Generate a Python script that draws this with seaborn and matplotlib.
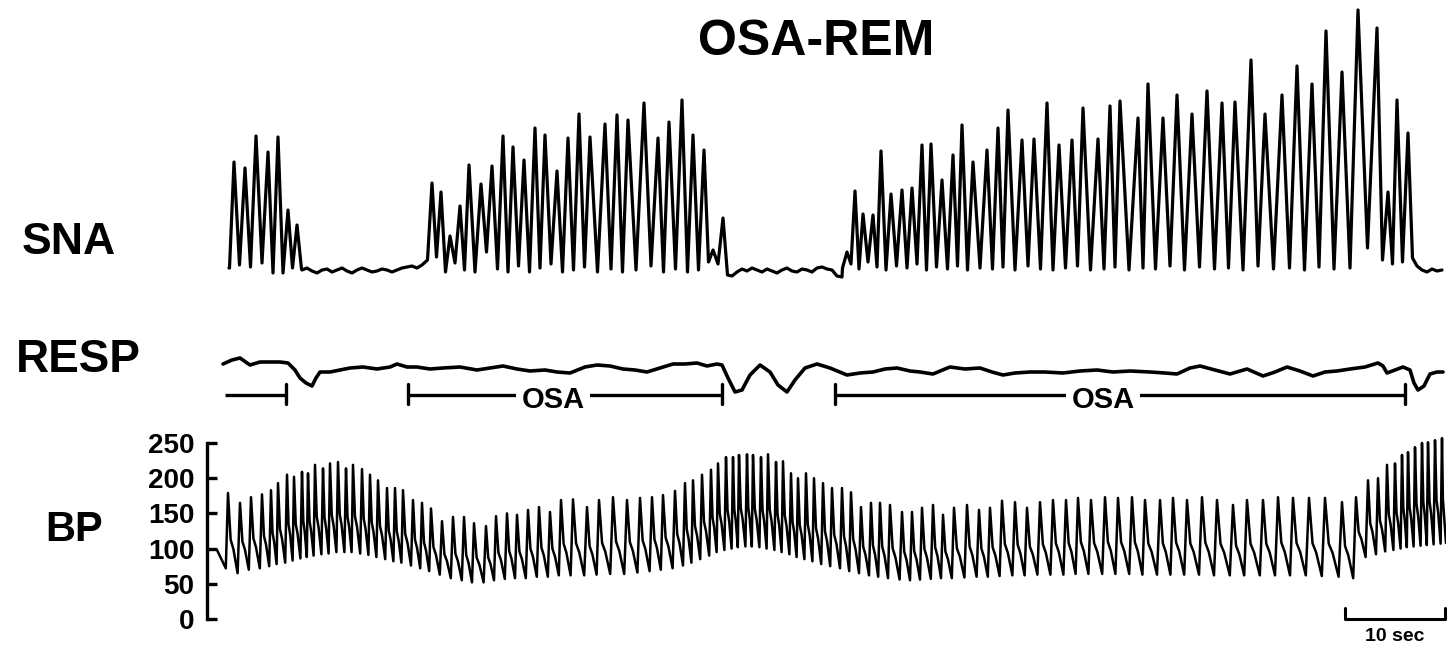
import numpy as np
import pandas as pd
import matplotlib
matplotlib.use("Agg")
import matplotlib.pyplot as plt
import seaborn as sns

sns.set_style("white")
plt.rcParams["font.family"] = ["Liberation Sans", "DejaVu Sans"]
plt.rcParams["font.weight"] = "bold"
plt.rcParams["text.color"] = "black"
plt.rcParams["ytick.color"] = "black"
plt.rcParams["axes.edgecolor"] = "black"

# ---------------------------------------------------------------------------
# SNA: sympathetic nerve activity, burst peaks (arbitrary units), time in s
# ---------------------------------------------------------------------------
sna_seg1_t = [0.7, 1.8, 2.9, 4.1, 5.1, 6.1, 7.0]
sna_seg1_amp = [110, 104, 136, 120, 135, 62, 47]
sna_seg1_trough = [7, 5, 9, -1, -1, 4]

sna_seg2_t = [20.5, 21.4, 22.3, 23.3, 24.2, 25.4, 26.5, 27.6, 28.6, 29.7,
              30.8, 31.8, 33.0, 34.1, 35.2, 36.3, 37.8, 39.0, 40.1, 41.7,
              43.1, 44.2, 45.5, 46.6, 47.7, 48.6, 49.6]
sna_seg2_amp = [89, 80, 36, 66, 107, 88, 106, 136, 125, 112,
                144, 137, 101, 134, 158, 135, 148, 157, 152, 169,
                134, 150, 172, 137, 122, 22, 54]
sna_seg2_trough = [15, 0, 9, 2, 0, 20, 3, 0, 6, 0, 4, 8, 0, 2, 5, 0, 3, 0,
                   2, 6, 0, 3, 0, 2, 10, 8]

sna_seg3_t = [62.0, 62.8, 63.6, 64.6, 65.4, 66.4, 67.5, 68.5, 69.5, 70.4,
              71.5, 72.6, 73.5, 74.6, 76.0, 77.1, 78.1, 79.5, 80.7, 82.0,
              83.2, 84.5, 85.6, 87.1, 88.3, 89.3, 91.1, 92.1, 93.6, 95.0,
              96.5, 98.0, 99.5, 100.8, 102.4, 103.8, 105.5, 107.0, 108.5,
              109.9, 111.5, 113.1, 115.0, 116.1, 117.0, 118.1]
sna_seg3_amp = [20, 81, 58, 57, 121, 78, 82, 84, 127, 128,
                92, 117, 147, 110, 122, 144, 162, 132, 133, 169,
                127, 132, 164, 133, 166, 171, 154, 188, 154, 177,
                158, 181, 169, 170, 212, 158, 177, 206, 188,
                241, 200, 262, 244, 80, 172, 139]
sna_seg3_trough = [8, 3, 10, 5, 2, 6, 4, 8, 2, 5, 3, 6, 2, 4, 3, 5, 2, 6, 3,
                   2, 4, 6, 2, 3, 5, 2, 4, 3, 6, 2, 5, 3, 4, 2, 6, 3, 4, 2,
                   5, 3, 4, 24, 12, 8, 10]

# quiet baseline between burst trains (sampled every 0.5 s)
sna_rest1_t = np.arange(7.5, 19.51, 0.5)
sna_rest1_amp = [2, 4, 1, -1, 2, 3, 0, 2, 4, 1, -1, 2, 4, 2, 0, 1, 3, 2, 0,
                 2, 4, 5, 6, 4, 7]
sna_rest2_t = np.arange(50.5, 61.51, 0.5)
sna_rest2_amp = [-4, 0, 3, 1, 4, 2, 0, 3, 1, -1, 2, 4, 1, 0, 3, 2, 0, 4, 5,
                 3, 2, -4, -5]
sna_rest3_t = np.arange(119.0, 121.51, 0.5)
sna_rest3_amp = [6, 2, 0, 3, 1, 2]

# ---------------------------------------------------------------------------
# RESP: respiratory trace (arbitrary units)
# ---------------------------------------------------------------------------
resp_t = [-0.4, 0.5, 1.3, 2.3, 3.3, 4.3, 5.3, 6.1, 6.8, 7.3, 7.9, 8.5, 8.9,
          9.3, 10.3, 11.3, 12.3, 13.6, 15.0, 16.3, 17.0, 18.0, 19.0, 20.3,
          21.6, 23.3, 25.0, 26.3, 27.6, 29.0, 30.3, 31.8, 33.0, 34.3, 35.8,
          37.0, 38.3, 39.6, 40.8, 42.0, 43.3, 44.6, 45.8, 47.0, 48.0, 49.0,
          49.5, 50.1, 50.8, 51.5, 52.3, 53.3, 54.3, 55.1, 56.0, 56.8, 57.8,
          59.0, 60.3, 62.0, 63.3, 64.6, 65.8, 67.0, 68.3, 69.3, 70.6, 71.8,
          72.3, 73.8, 75.3, 76.5, 77.6, 78.8, 80.3, 81.8, 83.6, 85.3, 87.0,
          88.6, 90.3, 92.3, 93.8, 95.0, 96.3, 97.3, 98.8, 100.3, 102.0,
          103.6, 104.8, 106.0, 107.3, 108.6, 109.8, 111.0, 112.3, 113.8,
          115.1, 115.6, 116.0, 116.8, 117.6, 118.3, 118.7, 119.1, 119.7,
          120.3, 121.0, 121.6]
resp_v = [16, 20, 22, 15, 18, 18, 18, 17, 10, 2, -3, -6, 2,
          8, 8, 10, 12, 13, 11, 13, 16, 13, 13, 11,
          12, 13, 10, 12, 14, 11, 9, 10, 8, 7, 13,
          15, 14, 11, 10, 8, 12, 16, 16, 17, 14, 16,
          15, 2, -12, -10, 5, 15, 8, -5, -12, 0, 12,
          16, 12, 5, 7, 8, 11, 12, 9, 8, 6, 11,
          13, 11, 12, 8, 5, 7, 8, 8, 7, 9, 10,
          8, 9, 8, 7, 6, 12, 14, 10, 6, 11,
          4, 8, 13, 9, 4, 8, 9, 11, 13,
          17, 14, 7, 10, 13, 10, -3, -10, -6,
          6, 8, 8]

# obstructive apnoea episodes (start, end) in s; first one began before record
osa_start = [-0.2, 18.1, 60.8]
osa_end = [5.9, 49.5, 117.8]
osa_label = ["", "OSA", "OSA"]
osa_label_t = [None, 32.6, 87.6]

# ---------------------------------------------------------------------------
# BP: arterial pressure, systolic peak per beat and preceding diastolic (mmHg)
# ---------------------------------------------------------------------------
bp_t = [0.1, 1.3, 2.4, 3.5, 4.4, 5.1, 6.0, 6.7, 7.5, 8.1, 8.8, 9.6, 10.3,
        11.1, 11.9, 12.6, 13.5, 14.3, 15.1, 16.0, 16.8, 17.6, 18.6, 19.5,
        20.4, 21.5, 22.6, 23.7, 24.7, 25.9, 26.9, 28.0, 29.0, 30.1, 31.2,
        32.3, 33.4, 34.6, 36.0, 37.2, 38.6, 40.0, 41.3, 42.5, 43.6, 44.8,
        45.8, 46.6, 47.5, 48.4, 49.1, 49.9, 50.6, 51.2, 52.0, 52.6, 53.4,
        54.1, 54.9, 55.6, 56.4, 57.1, 57.9, 58.7, 59.6, 60.5, 61.5, 62.4,
        63.4, 64.4, 65.3, 66.3, 67.5, 68.5, 69.5, 70.6, 71.6, 72.7, 74.0,
        75.2, 76.3, 77.5, 78.8, 80.0, 81.3, 82.6, 83.9, 85.1, 86.4, 87.8,
        89.1, 90.5, 91.8, 93.3, 94.6, 96.0, 97.5, 99.0, 100.6, 102.0, 103.6,
        105.1, 106.6, 108.2, 109.8, 111.5, 112.9, 114.1, 115.1, 116.0,
        116.8, 117.5, 118.1, 118.8, 119.5, 120.1, 120.8, 121.5]
bp_sys = [179, 165, 173, 177, 183, 193, 205, 202, 209, 207, 219, 214, 221,
          223, 214, 219, 213, 205, 197, 186, 186, 183, 169, 165,
          157, 139, 145, 145, 136, 132, 146, 150, 148, 155, 159,
          152, 169, 170, 159, 169, 173, 169, 172, 173, 176, 182,
          193, 197, 205, 212, 221, 230, 230, 233, 234, 233, 230,
          234, 223, 224, 207, 200, 207, 200, 193, 186, 186, 180,
          159, 165, 165, 162, 152, 152, 158, 162, 148, 158, 162,
          155, 158, 168, 166, 158, 166, 169, 169, 172, 169, 173,
          172, 173, 169, 169, 172, 169, 173, 169, 162, 169, 169,
          173, 172, 172, 172, 166, 173, 197, 200, 219,
          221, 233, 237, 244, 250, 251, 254, 257]
bp_dia = [72, 65, 70, 72, 75, 78, 80, 83, 86, 88, 90, 92, 93,
          95, 95, 95, 93, 91, 88, 85, 82, 80, 76, 72,
          68, 63, 58, 55, 52, 52, 55, 57, 58, 58, 60,
          60, 62, 62, 62, 63, 64, 64, 66, 68, 70, 72,
          76, 80, 85, 90, 95, 98, 100, 102, 103, 103, 102,
          100, 98, 95, 92, 88, 85, 82, 78, 75, 72, 68,
          65, 62, 60, 58, 56, 55, 56, 57, 58, 58, 59,
          60, 60, 61, 62, 62, 63, 63, 63, 64, 64, 64,
          64, 64, 63, 63, 63, 63, 63, 62, 62, 62, 62,
          62, 62, 62, 61, 60, 58, 88, 92, 96,
          98, 100, 102, 103, 104, 105, 106, 107]

bp_ticks = [0, 50, 100, 150, 200, 250]
scale_bar_sec = 10


def burst_train(t, amp, trough, start_level, end_level, edge=0.45):
    xs, ys = [t[0] - edge], [start_level]
    for i in range(len(t)):
        xs.append(t[i])
        ys.append(amp[i])
        if i < len(t) - 1:
            xs.append(0.5 * (t[i] + t[i + 1]))
            ys.append(trough[i])
    xs.append(t[-1] + edge)
    ys.append(end_level)
    return xs, ys


def pulse_train(t, sys_v, dia_v, t0, v0, t1, v1):
    xs, ys = [t0], [v0]
    n = len(t)
    for i in range(n):
        gap_prev = t[i] - t[i - 1] if i > 0 else 1.1
        xs.append(t[i] - 0.2 * gap_prev)
        ys.append(dia_v[i])
        xs.append(t[i])
        ys.append(sys_v[i])
        if i < n - 1:
            gap, nxt = t[i + 1] - t[i], dia_v[i + 1]
        else:
            gap, nxt = t1 - t[i], v1
        xs.append(t[i] + 0.22 * gap)
        ys.append(nxt + 0.42 * (sys_v[i] - nxt))
        xs.append(t[i] + 0.45 * gap)
        ys.append(nxt + 0.3 * (sys_v[i] - nxt))
    xs.append(t1)
    ys.append(v1)
    return xs, ys


# assemble the SNA trace
sx, sy = [0.2], [4]
for part in [
    burst_train(sna_seg1_t, sna_seg1_amp, sna_seg1_trough, 4, 3),
    (list(sna_rest1_t), sna_rest1_amp),
    burst_train(sna_seg2_t, sna_seg2_amp, sna_seg2_trough, 12, -3),
    (list(sna_rest2_t), sna_rest2_amp),
    burst_train(sna_seg3_t, sna_seg3_amp, sna_seg3_trough, 4, 14),
    (list(sna_rest3_t), sna_rest3_amp),
]:
    sx += list(part[0])
    sy += list(part[1])
sna_df = pd.DataFrame({"t": sx, "v": sy})
resp_df = pd.DataFrame({"t": resp_t, "v": resp_v})
bx, by = pulse_train(bp_t, bp_sys, bp_dia, -1.0, 98, 121.9, 108)
bp_df = pd.DataFrame({"t": bx, "v": by})

W, H = 1448, 656
fig = plt.figure(figsize=(W / 100, H / 100), dpi=100)
XL, XR = 207, 1446
TLIM = (-2.0, 121.9)


def axes_px(top, bottom):
    return fig.add_axes([XL / W, 1 - bottom / H, (XR - XL) / W, (bottom - top) / H])


ax_sna = axes_px(0, 280)
ax_resp = axes_px(340, 420)
ax_bp = axes_px(430, 640)

kw = dict(x="t", y="v", sort=False, estimator=None, color="black")
sns.lineplot(data=sna_df, ax=ax_sna, linewidth=2.3, **kw)
sns.lineplot(data=resp_df, ax=ax_resp, linewidth=2.6, **kw)
sns.lineplot(data=bp_df, ax=ax_bp, linewidth=1.8, **kw)

ax_sna.set_xlim(TLIM)
ax_sna.set_ylim(-8, 272)
ax_sna.axis("off")

ax_resp.set_xlim(TLIM)
ax_resp.set_ylim(-40, 40)
ax_resp.axis("off")

# apnoea bars with end ticks and labels
bar_y, tick_lo, tick_hi = -15, -24, -4
for s, e, lab, lt in zip(osa_start, osa_end, osa_label, osa_label_t):
    ax_resp.plot([s, e], [bar_y, bar_y], color="black", lw=2.4, solid_capstyle="butt")
    ax_resp.plot([e, e], [tick_lo, tick_hi], color="black", lw=2.4)
    if lab:
        ax_resp.plot([s, s], [tick_lo, tick_hi], color="black", lw=2.4)
        ax_resp.text(lt, -20, lab, ha="center", va="center", fontsize=21,
                     fontweight="bold",
                     bbox=dict(facecolor="white", edgecolor="none", pad=4))

ax_bp.set_xlim(TLIM)
ax_bp.set_ylim((619 - 640) * 250 / 176, (619 - 430) * 250 / 176)
for side in ["top", "right", "bottom"]:
    ax_bp.spines[side].set_visible(False)
ax_bp.spines["left"].set_bounds(0, 250)
ax_bp.spines["left"].set_linewidth(2.4)
ax_bp.set_xticks([])
ax_bp.set_yticks(bp_ticks)
ax_bp.set_yticklabels([str(v) for v in bp_ticks], fontsize=20, fontweight="bold")
ax_bp.tick_params(axis="y", direction="in", length=7, width=2.4, pad=9, left=True)
ax_bp.set_xlabel("")
ax_bp.set_ylabel("")

# time scale bar
sb0, sb1 = 111.8, 111.8 + scale_bar_sec
ax_bp.plot([sb0, sb0, sb1, sb1], [15, 0, 0, 15], color="black", lw=2.2, clip_on=False)
ax_bp.text(0.5 * (sb0 + sb1), -25, f"{scale_bar_sec} sec", ha="center", va="center",
           fontsize=14, fontweight="bold")

for a in (ax_sna, ax_resp):
    a.set_xlabel("")
    a.set_ylabel("")

fig.text(816 / W, 1 - 42 / H, "OSA-REM", ha="center", va="center", fontsize=36,
         fontweight="bold")
fig.text(22 / W, 1 - 243 / H, "SNA", ha="left", va="center", fontsize=32, fontweight="bold")
fig.text(16 / W, 1 - 360 / H, "RESP", ha="left", va="center", fontsize=33, fontweight="bold")
fig.text(45 / W, 1 - 530 / H, "BP", ha="left", va="center", fontsize=30, fontweight="bold")

fig.savefig("out.png", dpi=100, facecolor="white")
